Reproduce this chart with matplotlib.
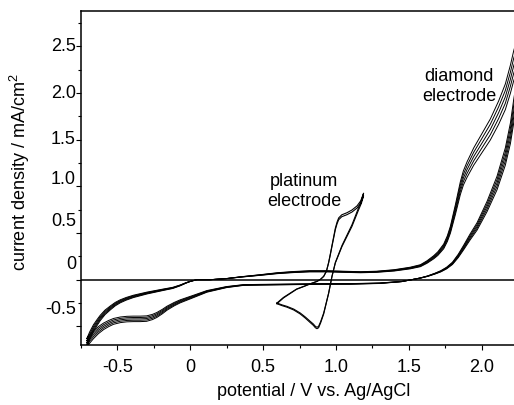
import numpy as np
import matplotlib
matplotlib.use("Agg")
import matplotlib.pyplot as plt
from matplotlib.ticker import MultipleLocator
from matplotlib.transforms import blended_transform_factory, ScaledTranslation

plt.rcParams['font.family'] = ['Liberation Sans', 'DejaVu Sans']
plt.rcParams['font.size'] = 13
plt.rcParams['mathtext.fontset'] = 'custom'
plt.rcParams['mathtext.rm'] = 'Liberation Sans'

# ---- data ----
# diamond electrode: upper branch (left vertex -> right edge)
dia_up_x = [-0.71, -0.69, -0.664, -0.64, -0.618, -0.585, -0.549, -0.515, -0.481, -0.44, -0.39, -0.297,
            -0.183, -0.12, -0.069, -0.03, 0.0, 0.046, 0.137, 0.25, 0.35, 0.48, 0.6, 0.71, 0.82, 0.94,
            1.05, 1.17, 1.28, 1.40, 1.51, 1.58, 1.626, 1.671, 1.70, 1.74, 1.765, 1.786, 1.82, 1.854,
            1.875, 1.90, 1.946, 2.003, 2.06, 2.117, 2.163, 2.198, 2.22, 2.27]
dia_up_y = [-0.678, -0.60, -0.518, -0.46, -0.41, -0.35, -0.303, -0.262, -0.232, -0.205, -0.179, -0.143,
            -0.107, -0.088, -0.061, -0.035, -0.018, 0.0, 0.0, 0.012, 0.03, 0.05, 0.07, 0.082, 0.09, 0.09,
            0.085, 0.08, 0.085, 0.10, 0.125, 0.15, 0.19, 0.24, 0.28, 0.357, 0.44, 0.536, 0.75, 0.98,
            1.09, 1.18, 1.32, 1.465, 1.61, 1.79, 1.96, 2.15, 2.29, 2.55]
# diamond electrode: lower branch (left vertex -> right edge)
dia_lo_x = [-0.71, -0.69, -0.664, -0.63, -0.595, -0.56, -0.527, -0.48, -0.435, -0.39, -0.343, -0.30,
            -0.26, -0.229, -0.19, -0.16, -0.11, -0.069, 0.023, 0.115, 0.25, 0.366, 0.48, 0.7, 0.9, 1.1,
            1.3, 1.45, 1.52, 1.58, 1.63, 1.68, 1.72, 1.76, 1.80, 1.84, 1.877, 1.92, 1.969, 2.038, 2.106,
            2.163, 2.198, 2.22, 2.27]
dia_lo_y = [-0.678, -0.635, -0.59, -0.54, -0.50, -0.47, -0.447, -0.43, -0.422, -0.42, -0.42, -0.417,
            -0.40, -0.378, -0.34, -0.306, -0.262, -0.232, -0.179, -0.125, -0.079, -0.057, -0.054, -0.05,
            -0.046, -0.045, -0.038, -0.02, 0.0, 0.018, 0.038, 0.065, 0.09, 0.125, 0.175, 0.255, 0.345,
            0.455, 0.571, 0.786, 1.036, 1.32, 1.57, 1.80, 2.25]
dia_cycle_scale = [0.93, 0.965, 1.0, 1.035, 1.07]

# platinum electrode: forward and reverse branches
pt_fwd_x = [0.595, 0.64, 0.687, 0.73, 0.778, 0.83, 0.87, 0.895, 0.916, 0.935, 0.95, 0.962, 0.973,
            0.985, 0.996, 1.008, 1.019, 1.04, 1.076, 1.11, 1.145, 1.17, 1.19]
pt_fwd_y = [-0.25, -0.19, -0.143, -0.10, -0.072, -0.04, -0.018, 0.005, 0.035, 0.09, 0.18, 0.27, 0.357,
            0.45, 0.536, 0.60, 0.643, 0.675, 0.697, 0.725, 0.768, 0.82, 0.90]
pt_rev_x = [1.19, 1.175, 1.156, 1.11, 1.042, 0.996, 0.973, 0.95, 0.916, 0.895, 0.881, 0.87, 0.859,
            0.845, 0.824, 0.79, 0.755, 0.71, 0.664, 0.63, 0.595]
pt_rev_y = [0.90, 0.82, 0.75, 0.571, 0.357, 0.179, 0.035, -0.143, -0.357, -0.45, -0.50, -0.51, -0.50,
            -0.475, -0.447, -0.40, -0.357, -0.315, -0.286, -0.27, -0.25]
pt_cycle_scale = [1.0, 1.03]

xticks = [-0.5, 0, 0.5, 1.0, 1.5, 2.0]
xticklabels = ['-0.5', '0', '0.5', '1.0', '1.5', '2.0']
yticks = [-0.5, 0, 0.5, 1.0, 1.5, 2.0, 2.5]
yticklabels = ['-0.5', '0', '0.5', '1.0', '1.5', '2.0', '2.5']
# upward shift (pixels) of each y tick label as seen in the original figure
ylabel_shift_px = [17, 15, 11.5, 6.5, 0.5, 0, 0]

# ---- figure ----
W, H = 514, 405
fig = plt.figure(figsize=(W / 100, H / 100), dpi=100)
ax = fig.add_axes([81 / W, 60 / H, (518 - 81) / W, (394 - 60) / H])

for s in dia_cycle_scale:
    x = np.concatenate([dia_up_x, dia_lo_x[::-1]])
    y = np.concatenate([np.array(dia_up_y) * s, (np.array(dia_lo_y) * s)[::-1]])
    ax.plot(x, y, color='black', lw=0.7, solid_joinstyle='round')

for s in pt_cycle_scale:
    x = np.concatenate([pt_fwd_x, pt_rev_x])
    y = np.concatenate([np.array(pt_fwd_y) * s, np.array(pt_rev_y) * s])
    ax.plot(x, y, color='black', lw=0.8, solid_joinstyle='round')

ax.axhline(0, color='black', lw=1.1)

ax.set_xlim(-0.75, 2.25)
ax.set_ylim(-0.7, 2.88)
ax.spines['right'].set_visible(False)
for sp in ['left', 'bottom', 'top']:
    ax.spines[sp].set_linewidth(1.1)

ax.set_xticks(xticks)
ax.set_xticklabels(xticklabels)
ax.xaxis.set_minor_locator(MultipleLocator(0.25))
ax.set_yticks(yticks)
ax.set_yticklabels([''] * len(yticks))
ax.yaxis.set_minor_locator(MultipleLocator(0.25))
ax.tick_params(which='major', direction='out', length=3.6, width=0.8, pad=6.5)
ax.tick_params(which='minor', direction='out', length=2.5, width=0.8)
ax.tick_params(axis='y', which='both', right=False)
ax.tick_params(axis='x', which='both', top=False)

btrans = blended_transform_factory(ax.transAxes, ax.transData)
for val, lab, sh in zip(yticks, yticklabels, ylabel_shift_px):
    tr = btrans + ScaledTranslation(-5 / 100, sh / 100, fig.dpi_scale_trans)
    ax.text(0, val, lab, transform=tr, ha='right', va='center', fontsize=13)

ax.text(0.783, 0.943, 'platinum\nelectrode', ha='center', va='center',
        multialignment='center', linespacing=1.25, fontsize=13)
ax.text(1.847, 2.074, 'diamond\nelectrode', ha='center', va='center',
        multialignment='center', linespacing=1.25, fontsize=13)

fig.text(314 / W, (H - 392) / H, 'potential / V vs. Ag/AgCl', ha='center', va='center', fontsize=13)
fig.text(20 / W, (H - 172) / H, 'current density / mA/cm$^\\mathregular{2}$', rotation=90,
         ha='center', va='center', fontsize=13)

fig.savefig('out.png', dpi=100)
